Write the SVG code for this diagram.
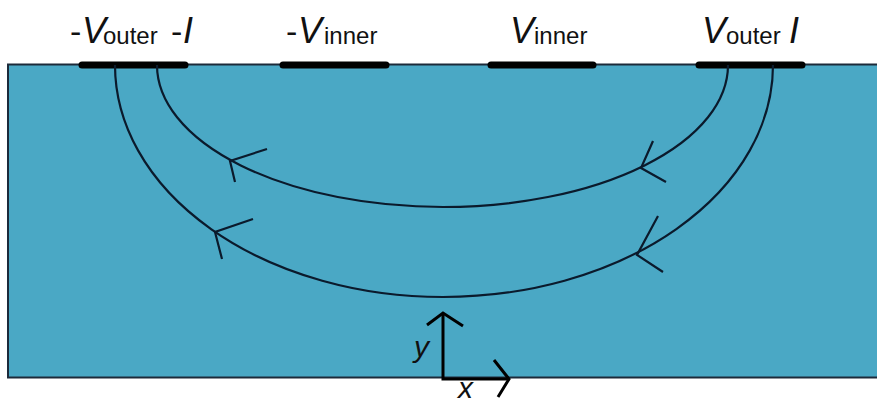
<svg xmlns="http://www.w3.org/2000/svg" width="877" height="405" viewBox="0 0 877 405">
<style>
.lbl{font-family:"Liberation Sans","Open Sans",sans-serif;fill:#111}
.big{font-size:36px;font-style:italic}
.dash{font-size:34px}
.sub{font-size:24px}
.curve{fill:none;stroke:#0b1a2c;stroke-width:2.2}
.elec{stroke:#000;stroke-width:7;stroke-linecap:round}
.axis{fill:none;stroke:#000;stroke-width:3}
.axlbl{font-family:"Liberation Sans","Open Sans",sans-serif;font-size:30px;font-style:italic;fill:#111}
</style>
<g id="substrate">
<rect x="8" y="64.5" width="880" height="313" fill="#4aa8c5" stroke="#1c2a3a" stroke-width="2"/>
</g>
<g id="electrodes">
<line class="elec" x1="82" y1="65" x2="185" y2="65"/>
<line class="elec" x1="283" y1="65" x2="386" y2="65"/>
<line class="elec" x1="491" y1="65" x2="593" y2="65"/>
<line class="elec" x1="699" y1="65" x2="802" y2="65"/>
</g>
<g id="labels" class="lbl">
<text class="dash" x="70" y="43">-</text><text class="big" x="82" y="43">V</text><text class="sub" x="103" y="44">outer</text>
<text class="dash" x="171" y="43">-</text><text class="big" x="183" y="43">I</text>
<text class="dash" x="286" y="43">-</text><text class="big" x="298" y="43">V</text><text class="sub" x="324" y="44">inner</text>
<text class="big" x="510" y="43">V</text><text class="sub" x="534" y="44">inner</text>
<text class="big" x="702" y="43">V</text><text class="sub" x="726" y="44">outer</text>
<text class="big" x="789" y="43">I</text>
</g>
<g id="connectors">
<path class="curve" d="M157,65 A286,142 0 0 0 443,207 A285,142 0 0 0 728,65"/>
<path class="curve" d="M115,65 A328,232 0 0 0 443,297 A330,232 0 0 0 773,65"/>
<polyline class="curve" points="267,149 230,161 235,182"/>
<polyline class="curve" points="253,219 215,232 222,259"/>
<polyline class="curve" points="653,141 641,168 666,182"/>
<polyline class="curve" points="658,216 637,255 663,272"/>
</g>
<g id="axes">
<polyline class="axis" points="443,313 443,379 509,379"/>
<polyline class="axis" points="427,325 443,313 463,326" stroke-width="2.5"/>
<polyline class="axis" points="494,360 509,379 498,397" stroke-width="2.5"/>
<text class="axlbl" x="414" y="357">y</text>
<text class="axlbl" x="458" y="398" font-size="28">x</text>
</g>
</svg>
